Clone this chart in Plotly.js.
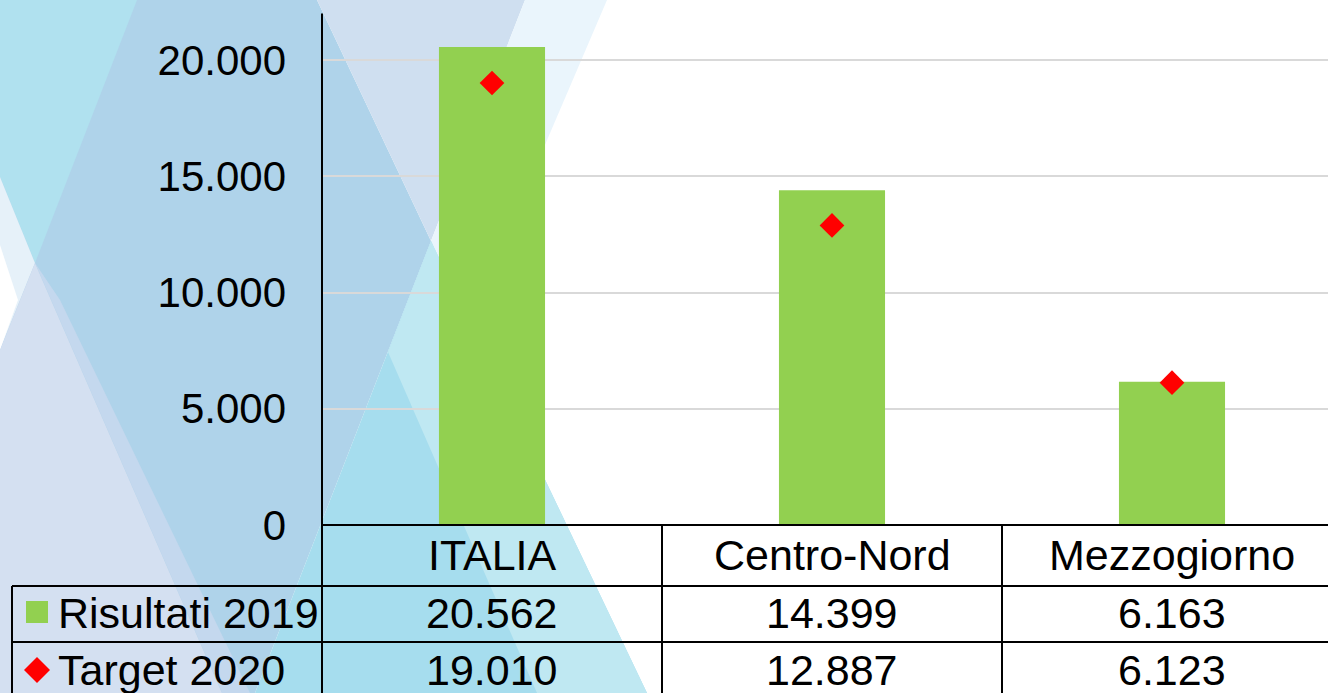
<!DOCTYPE html>
<html>
<head>
<meta charset="utf-8">
<script src="https://cdn.plot.ly/plotly-3.0.1.min.js"></script>
<style>html,body{margin:0;padding:0;background:#fff;overflow:hidden}</style>
</head>
<body>
<div id="chart" style="width:1328px;height:693px"></div>
<script>
// chart data
var categories = ["ITALIA", "Centro-Nord", "Mezzogiorno"];
var risultati2019 = [20562, 14399, 6163];
var target2020 = [19010, 12887, 6123];
var seriesNames = ["Risultati 2019", "Target 2020"];
var yTicks = [0, 5000, 10000, 15000, 20000];

var W = 1328, H = 693;
var FONT = "Liberation Sans, Arial, sans-serif";

// pixel -> paper (margins are 0, so paper == whole figure)
function px(x) { return x / W; }
function py(y) { return 1 - y / H; }
function poly(pts) {
  return "M " + pts.map(function (p) { return px(p[0]) + "," + py(p[1]); }).join(" L ") + " Z";
}
function fmt(v) {
  return String(v).replace(/\B(?=(\d{3})+(?!\d))/g, ".");
}

// decorative background stripes
var bg = [
  { pts: [[0, 0], [317, 0], [431, 241], [255, 693], [0, 693]], color: "#afd3ea" },
  { pts: [[317, 0], [525, 0], [431, 241]], color: "#cfdff0" },
  { pts: [[525, 0], [607, 0], [470, 320], [431, 241]], color: "#eaf5fc" },
  { pts: [[431, 241], [647, 693], [255, 693]], color: "#a6ddee" },
  { pts: [[388, 352], [431, 241], [647, 693], [537, 693]], color: "#bfe8f2" },
  { pts: [[0, 0], [137, 0], [35, 263], [0, 177]], color: "#b0e1ef" },
  { pts: [[0, 177], [35, 263], [0, 350]], color: "#e6f1f9" },
  { pts: [[0, 245], [18, 300], [0, 350]], color: "#ffffff" },
  { pts: [[0, 350], [35, 263], [222, 693], [0, 693]], color: "#d4e0f1" },
  { pts: [[35, 263], [60, 300], [250, 693], [222, 693]], color: "#c4d8ee" }
];

var shapes = bg.map(function (s) {
  return { type: "path", xref: "paper", yref: "paper", path: poly(s.pts),
           fillcolor: s.color, line: { width: 0 }, layer: "below" };
});

function hline(x0, x1, y) {
  return { type: "line", xref: "paper", yref: "paper", x0: px(x0), x1: px(x1), y0: py(y), y1: py(y),
           line: { color: "#000", width: 2 }, layer: "above" };
}
// table grid
shapes.push(hline(322, W, 525));
shapes.push(hline(12, W, 586));
shapes.push(hline(12, W, 642));
shapes.push({ type: "line", xref: "paper", yref: "paper", x0: px(322), x1: px(322), y0: py(13.5), y1: 0,
              line: { color: "#000", width: 2 }, layer: "above" });
shapes.push({ type: "line", xref: "paper", yref: "paper", x0: px(12), x1: px(12), y0: py(586), y1: 0,
              line: { color: "#000", width: 2 }, layer: "above" });
[0.5, 1.5].forEach(function (xv) {
  shapes.push({ type: "line", xref: "x", yref: "paper", x0: xv, x1: xv, y0: py(525), y1: 0,
                line: { color: "#000", width: 2 }, layer: "above" });
});
// legend keys in the table
shapes.push({ type: "rect", xref: "paper", yref: "paper", x0: px(26), x1: px(48), y0: py(601), y1: py(623),
              fillcolor: "#92d050", line: { width: 0 }, layer: "above" });
shapes.push({ type: "path", xref: "paper", yref: "paper",
              path: poly([[37, 657], [50, 670], [37, 683], [24, 670]]),
              fillcolor: "#ff0000", line: { width: 0 }, layer: "above" });

var annotations = [];
function cell(x, xref, y, text, anchor) {
  annotations.push({ x: x, xref: xref, y: py(y), yref: "paper", text: text, showarrow: false,
                     xanchor: anchor || "center", yanchor: "middle",
                     font: { family: FONT, size: 43, color: "#000" } });
}
categories.forEach(function (c, i) {
  cell(i, "x", 555, c);
  cell(i, "x", 613, fmt(risultati2019[i]));
  cell(i, "x", 670, fmt(target2020[i]));
});
cell(px(56), "paper", 613, seriesNames[0], "left");
cell(px(56), "paper", 670, seriesNames[1], "left");

var data = [
  {
    type: "bar",
    name: seriesNames[0],
    x: categories,
    y: risultati2019,
    width: 0.312,
    marker: { color: "#92d050", line: { width: 0 } },
    hoverinfo: "x+y+name"
  },
  {
    type: "scatter",
    mode: "markers",
    name: seriesNames[1],
    x: categories,
    y: target2020,
    marker: { symbol: "diamond", size: 19, color: "#ff0000", line: { width: 0 } },
    hoverinfo: "x+y+name"
  }
];

var layout = {
  width: W,
  height: H,
  margin: { l: 0, r: 0, t: 0, b: 0, autoexpand: false },
  paper_bgcolor: "#ffffff",
  plot_bgcolor: "rgba(0,0,0,0)",
  separators: ",.",
  showlegend: false,
  font: { family: FONT, size: 42, color: "#000" },
  xaxis: {
    type: "category",
    domain: [px(322), 1],
    range: [-0.5, -0.5 + (W - 322) / 340],
    showticklabels: false,
    showgrid: false,
    zeroline: false,
    showline: false
  },
  yaxis: {
    domain: [py(525), py(13.5)],
    range: [0, 22000],
    tickvals: yTicks,
    tickformat: ",d",
    ticks: "",
    ticklabelstandoff: 35,
    tickfont: { family: FONT, size: 42, color: "#000" },
    showgrid: true,
    gridcolor: "#d9d9d9",
    gridwidth: 2,
    zeroline: false,
    showline: false
  },
  shapes: shapes,
  annotations: annotations
};

Plotly.newPlot("chart", data, layout, { displayModeBar: false, staticPlot: true });
</script>
</body>
</html>
